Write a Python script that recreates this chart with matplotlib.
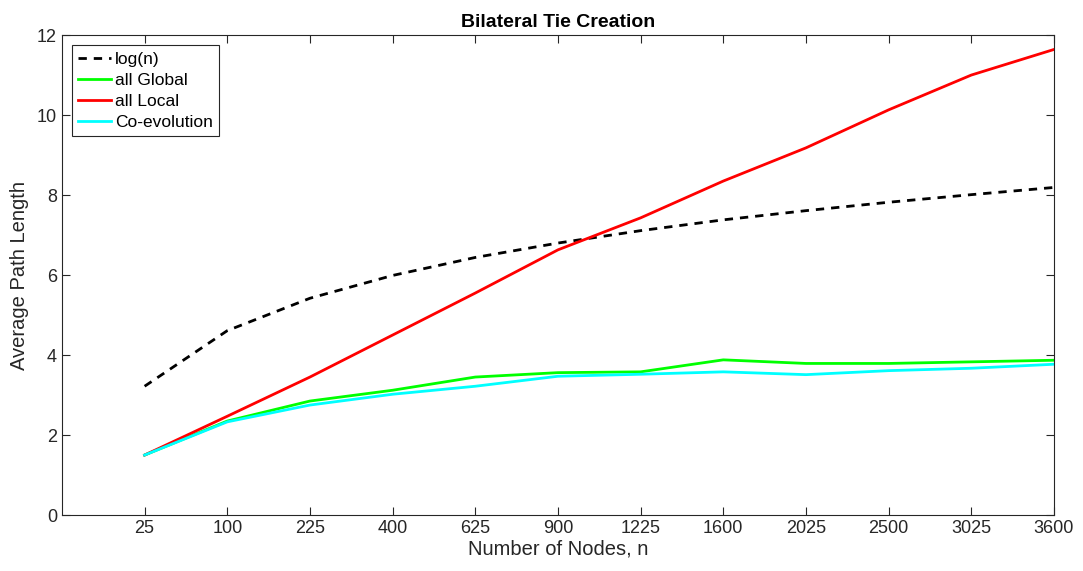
import matplotlib
matplotlib.use("Agg")
import matplotlib.pyplot as plt
import numpy as np

plt.rcParams['font.family'] = ['Liberation Sans', 'DejaVu Sans']

nodes = ['25', '100', '225', '400', '625', '900', '1225', '1600', '2025', '2500', '3025', '3600']
log_n = [3.22, 4.61, 5.42, 5.99, 6.44, 6.80, 7.11, 7.38, 7.61, 7.82, 8.01, 8.19]
all_global = [1.50, 2.35, 2.85, 3.12, 3.45, 3.56, 3.58, 3.88, 3.79, 3.79, 3.83, 3.87]
all_local = [1.50, 2.47, 3.45, 4.50, 5.55, 6.63, 7.43, 8.35, 9.18, 10.13, 11.00, 11.64]
co_evolution = [1.50, 2.33, 2.75, 3.02, 3.22, 3.47, 3.52, 3.58, 3.51, 3.61, 3.67, 3.77]

x = np.arange(1, len(nodes) + 1)

fig = plt.figure(figsize=(10.83, 5.71), dpi=100)
ax = fig.add_axes([0.0572, 0.098, 0.916, 0.8406])

ax.plot(x, log_n, 'k--', lw=2, dashes=(3, 2.5), label='log(n)')
ax.plot(x, all_global, color='#00ff00', lw=2, label='all Global')
ax.plot(x, all_local, color='#ff0000', lw=2, label='all Local')
ax.plot(x, co_evolution, color='#00ffff', lw=2, label='Co-evolution')

ax.set_xlim(0, 12)
ax.set_ylim(0, 12)
ax.set_xticks(x)
ax.set_xticklabels(nodes)
ax.set_yticks(np.arange(0, 13, 2))
ax.tick_params(direction='in', top=True, right=True, labelsize=13,
               colors='#262626', length=6, width=0.8)
for s in ax.spines.values():
    s.set_color('#262626')
    s.set_linewidth(0.8)

ax.set_xlabel('Number of Nodes, n', fontsize=14.5, color='#262626', labelpad=2)
ax.set_ylabel('Average Path Length', fontsize=14.5, color='#262626', labelpad=6)
ax.set_title('Bilateral Tie Creation', fontsize=14, fontweight='bold', pad=6)

leg = ax.legend(loc='upper left', fontsize=12.5, fancybox=False, framealpha=1,
                edgecolor='#262626', handlelength=1.9, handletextpad=0.2,
                borderaxespad=0.6, labelspacing=0.35, borderpad=0.35)
leg.get_frame().set_linewidth(0.8)

fig.savefig('out.png', dpi=100)
